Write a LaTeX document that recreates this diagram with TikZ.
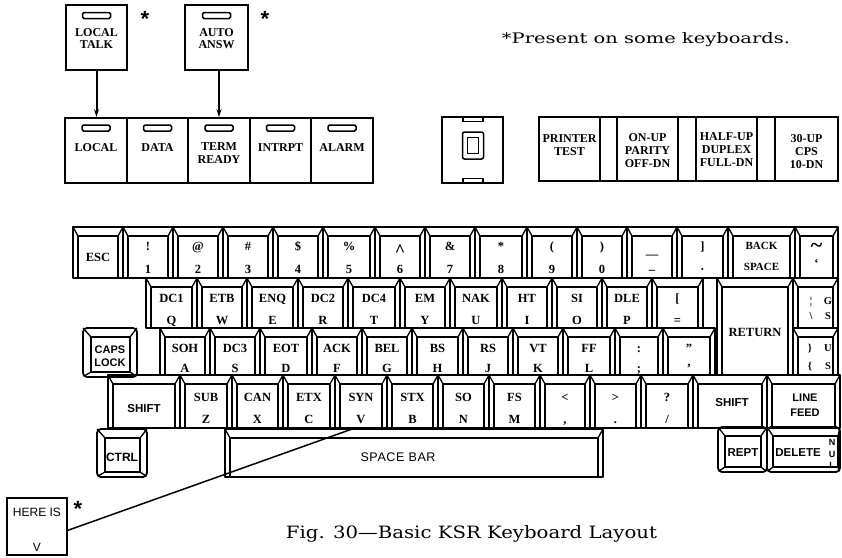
\documentclass[tikz,border=0pt]{standalone}
\usepackage{fontspec}
\usepackage{graphicx}
\setmainfont{Liberation Serif}
\newfontfamily\capfont{DejaVu Serif}
\newfontfamily\sansf{Liberation Sans}
\usetikzlibrary{arrows.meta}
\newcommand\fitw[2]{\resizebox{#1}{\height}{#2}}
\tikzset{
 keyout/.style={line width=1.8pt, line join=round},
 keyin/.style={line width=1.3pt, line join=round},
 kl/.style={font=\fontsize{12.5}{13}\selectfont\bfseries, inner sep=0pt, text height=8.3pt, text depth=0pt},
 ks/.style={font=\sansf\fontsize{11.5}{13}\selectfont\bfseries, inner sep=0pt, align=center},
 ibox/.style={draw, line width=1.9pt, inner sep=0pt},
 lamp/.style={draw, line width=1.5pt, rounded corners=1.5pt, minimum width=28pt, minimum height=6pt, inner sep=0pt},
 il/.style={font=\fontsize{12}{11.5}\selectfont\bfseries, align=center, inner sep=0pt},
 swl/.style={font=\fontsize{12}{13}\selectfont\bfseries, align=center, inner sep=0pt},
 star/.style={font=\sansf\fontsize{22}{22}\selectfont\bfseries, inner sep=0pt},
 arr/.style={line width=2pt, -{Stealth[length=8pt,width=5pt]}},
}
\newcommand\kbkey[4]{%
 \draw[keyout] (#1,#2) rectangle (#3,#4);
 \draw[keyin] (#1+5,#4) -- (#1+5,#2+9) -- (#3-5,#2+9) -- (#3-5,#4);
 \draw[keyin] (#1,#2) -- (#1+5,#2+9) (#3,#2) -- (#3-5,#2+9);}
% x1 y1 x2 y2 leftinset rightinset
\newcommand\kbround[6]{%
 \draw[keyout, rounded corners=4pt] (#1,#2) rectangle (#3,#4);
 \draw[keyin] (#1+#5,#2+9) rectangle (#3-#6,#4-5);
 \draw[keyin] (#1,#2) -- (#1+#5,#2+9) (#3,#2) -- (#3-#6,#2+9)
   (#1+1,#4-1) -- (#1+#5,#4-5) (#3-1,#4-1) -- (#3-#6,#4-5);}
\newcommand\rowset[4]{\def\rya{#1}\def\ryb{#2}\def\ryu{#3}\def\ryl{#4}}
\newcommand\kk[5]{\kbkey{#2}{\rya}{#3}{\ryb}
 \node[kl] (#1u) at ({(#2+#3)/2},\ryu) {#4};
 \node[kl] (#1l) at ({(#2+#3)/2},\ryl) {#5};}
\begin{document}
\begin{tikzpicture}[x=1pt,y=-1pt]
\useasboundingbox[fill=white] (0,0) rectangle (842,557);

% ---------- optional indicators (top)
\node[ibox, minimum width=61pt, minimum height=65pt] (localtalk) at (96.5,37.5) {};
\node[lamp] (ltlamp) at (96.5,15.5) {};
\node[il] (ltlbl) at (96.5,38.5) {LOCAL\\TALK};
\node[star] (ltstar) at (145,18.5) {*};
\node[ibox, minimum width=63pt, minimum height=65pt] (autoansw) at (216.5,37.5) {};
\node[lamp] (aalamp) at (216.5,15.5) {};
\node[il] (aalbl) at (216.5,38.5) {AUTO\\ANSW};
\node[star] (aastar) at (265,18.5) {*};

% ---------- indicator row
\foreach \n/\x/\w in {local/96/62, data/157.5/61, term/219/62, intr/280.5/61, alarm/342/62}
 {\node[ibox, minimum width=\w pt, minimum height=65pt] (\n) at (\x,150.5) {};
  \node[lamp] (\n lamp) at (\x,128) {};}
\node[il] (locallbl) at (96,147.5) {LOCAL};
\node[il] (datalbl) at (157.5,148) {DATA};
\node[il, font=\fontsize{12}{13}\selectfont\bfseries] (termlbl) at (219,153.5) {TERM\\READY};
\node[il] (intrlbl) at (280.5,147.5) {INTRPT};
\node[il] (alarmlbl) at (342,147.5) {ALARM};
\draw[arr] (localtalk.south) -- (localtalk.south |- local.north);
\draw[arr] (autoansw.south -| term.north) -- (term.north);

% ---------- centre switch
\node[ibox, minimum width=61pt, minimum height=66pt] (mid) at (472.5,150) {};
\node[draw, line width=1.5pt, rounded corners=2pt, minimum width=21pt, minimum height=27pt, inner sep=0pt] (midout) at (473,145.5) {};
\node[draw, line width=1.3pt, minimum width=11pt, minimum height=16pt, inner sep=0pt] (midin) at (473,145.5) {};
\node[draw, line width=1.1pt, minimum width=20pt, minimum height=3.5pt, inner sep=0pt] (midtop) at (473,119.5) {};
\node[draw, line width=1.1pt, minimum width=20pt, minimum height=3.5pt, inner sep=0pt] (midbot) at (473,180.5) {};

% ---------- switch group
\foreach \n/\x/\w in {prt/569.5/61, ga/608.5/17, par/647.5/61, gb/687/18, dup/726.5/61, gc/766/18, cps/806.5/63}
 {\node[ibox, minimum width=\w pt, minimum height=64pt] (\n) at (\x,149) {};}
\node[swl] (prtlbl) at (569.5,145) {PRINTER\\TEST};
\node[swl] (parlbl) at (647.5,150.5) {ON-UP\\PARITY\\OFF-DN};
\node[swl] (duplbl) at (726.5,149.5) {HALF-UP\\DUPLEX\\FULL-DN};
\node[swl] (cpslbl) at (806.5,152) {30-UP\\CPS\\10-DN};

% ---------- note and caption
\node[inner sep=0pt] (note) at (646,40) {\capfont\fontsize{14.5}{15}\selectfont\fitw{288pt}{*Present on some keyboards.}};
\node[inner sep=0pt] (caption) at (471.5,533.5) {\capfont\fontsize{17}{18}\selectfont\fitw{371pt}{Fig. 30—Basic KSR Keyboard Layout}};

% ---------- row 1
\rowset{227}{278}{246}{269}
\kbkey{73}{\rya}{123}{\ryb}
\node[kl] (esc) at (98,257) {ESC};
\kk{ka}{123}{173}{!}{1}
\kk{kb}{173}{223}{@}{2}
\kk{kc}{223}{273}{\#}{3}
\kk{kd}{273}{323}{\$}{4}
\kk{ke}{323}{375}{\%}{5}
\kk{kf}{375}{425}{}{6}
\node[kl, font=\fontsize{18}{18}\selectfont\bfseries] (kcaret) at (400,252) {\textasciicircum};
\kk{kg}{425}{475}{\&}{7}
\kk{kh}{475}{527}{*}{8}
\kk{ki}{527}{577}{(}{9}
\kk{kj}{577}{627}{)}{0}
\kbkey{627}{\rya}{677}{\ryb}
\node[kl, text height=4pt, text depth=0pt] (kminu) at (652,256) {—};
\node[kl, text height=2pt, text depth=2pt] (kminl) at (652,269.5) {\_};
\kk{kbr}{677}{728}{]}{·}
\kbkey{728}{\rya}{795}{\ryb}
\node[kl, font=\fontsize{11}{12}\selectfont\bfseries] (bsu) at (761.5,245) {BACK};
\node[kl, font=\fontsize{11}{12}\selectfont\bfseries] (bsl) at (761.5,266) {SPACE};
\kbkey{795}{\rya}{838}{\ryb}
\node[kl, font=\fontsize{22}{22}\selectfont\bfseries, text height=4pt, text depth=0pt] (tilu) at (816.5,250.5) {\textasciitilde};
\node[kl] (till) at (816.5,263.5) {`};

% ---------- row 2
\rowset{278}{328}{298}{320}
\kk{dca}{146}{197}{DC1}{Q}
\kk{etb}{197}{247}{ETB}{W}
\kk{enq}{247}{298}{ENQ}{E}
\kk{dcb}{298}{348}{DC2}{R}
\kk{dcd}{348}{400}{DC4}{T}
\kk{em}{400}{450}{EM}{Y}
\kk{nak}{450}{502}{NAK}{U}
\kk{ht}{502}{552}{HT}{I}
\kk{si}{552}{602}{SI}{O}
\kk{dle}{602}{652}{DLE}{P}
\kk{lbr}{652}{703}{[}{=}
\kbkey{793}{\rya}{838}{\ryb}
\node[kl, font=\fontsize{10.5}{12}\selectfont\bfseries] (gsa) at (811,300) {¦};
\node[kl, font=\fontsize{10.5}{12}\selectfont\bfseries] (gsb) at (811,315) {\textbackslash};
\node[kl, font=\fontsize{10.5}{12}\selectfont\bfseries] (gsc) at (828,300) {G};
\node[kl, font=\fontsize{10.5}{12}\selectfont\bfseries] (gsd) at (828,315) {S};

% return
\kbkey{717}{278}{793}{375}
\node[kl, font=\fontsize{12.5}{13}\selectfont\bfseries] (ret) at (755,332) {RETURN};

% ---------- row 3
\rowset{328}{375}{348}{368}
\kbround{83}{328}{137}{377}{8}{7}
\node[ks, font=\sansf\fontsize{11}{13.5}\selectfont\bfseries] (caps) at (110,356) {CAPS\\LOCK};
\kk{soh}{160}{210}{SOH}{A}
\kk{dcc}{210}{260}{DC3}{S}
\kk{eot}{260}{312}{EOT}{D}
\kk{ack}{312}{362}{ACK}{F}
\kk{bel}{362}{412}{BEL}{G}
\kk{bs}{412}{463}{BS}{H}
\kk{rs}{463}{513}{RS}{J}
\kk{vt}{513}{563}{VT}{K}
\kk{ff}{563}{615}{FF}{L}
\kk{col}{615}{663}{:}{;}
\kk{quo}{663}{715}{"}{'}
\kbkey{793}{\rya}{838}{\ryb}
\node[kl, font=\fontsize{10.5}{12}\selectfont\bfseries] (usa) at (810,347) {\}};
\node[kl, font=\fontsize{10.5}{12}\selectfont\bfseries] (usb) at (810,365) {\{};
\node[kl, font=\fontsize{10.5}{12}\selectfont\bfseries] (usc) at (828,347) {U};
\node[kl, font=\fontsize{10.5}{12}\selectfont\bfseries] (usd) at (828,365) {S};

% ---------- row 4
\rowset{375}{428}{397}{419}
\kbkey{108}{\rya}{180}{\ryb}
\node[ks] (lshift) at (144,409) {SHIFT};
\kk{sub}{180}{232}{SUB}{Z}
\kk{can}{232}{283}{CAN}{X}
\kk{etx}{283}{335}{ETX}{C}
\kk{syn}{335}{387}{SYN}{V}
\kk{stx}{387}{438}{STX}{B}
\kk{so}{438}{489}{SO}{N}
\kk{fs}{489}{540}{FS}{M}
\kk{lt}{540}{590}{<}{,}
\kk{gt}{590}{641}{>}{.}
\kk{qm}{641}{693}{?}{/}
\kbkey{693}{\rya}{767}{\ryb}
\node[ks] (rshift) at (732,403) {SHIFT};
\kbkey{767}{\rya}{840}{\ryb}
\node[ks, font=\sansf\fontsize{11}{14.5}\selectfont\bfseries] (lf) at (805,405) {LINE\\FEED};

% ---------- row 5
\kbround{97}{429}{147}{477}{8}{7}
\node[ks, font=\sansf\fontsize{12}{13}\selectfont\bfseries] (ctrl) at (122,457) {CTRL};
\kbkey{225}{429}{603}{477}
\node[font=\sansf\fontsize{12.5}{13}\selectfont\addfontfeature{LetterSpace=5}, inner sep=0pt] (space) at (398,457) {SPACE BAR};
\kbround{718}{427}{767}{472}{7}{6}
\node[ks] (rept) at (743,453) {REPT};
\kbround{767}{427}{840}{472}{6}{2}
\node[ks] (del) at (798,453) {DELETE};
\node[ks, font=\sansf\fontsize{9}{11.5}\selectfont\bfseries] (nul) at (832,454) {N\\U\\L};

% ---------- HERE IS indicator
\node[ibox, minimum width=60pt, minimum height=57pt] (hereis) at (37,526.5) {};
\node[font=\sansf\fontsize{12}{13}\selectfont, inner sep=0pt] (hilbl) at (37,512) {HERE IS};
\node[font=\sansf\fontsize{12}{13}\selectfont, inner sep=0pt] (hiv) at (37,547) {V};
\node[star] (histar) at (78,509) {*};
\coordinate (synpt) at (355,428);
\draw[line width=1.5pt] (hereis.-7) -- (synpt);
\end{tikzpicture}
\end{document}
